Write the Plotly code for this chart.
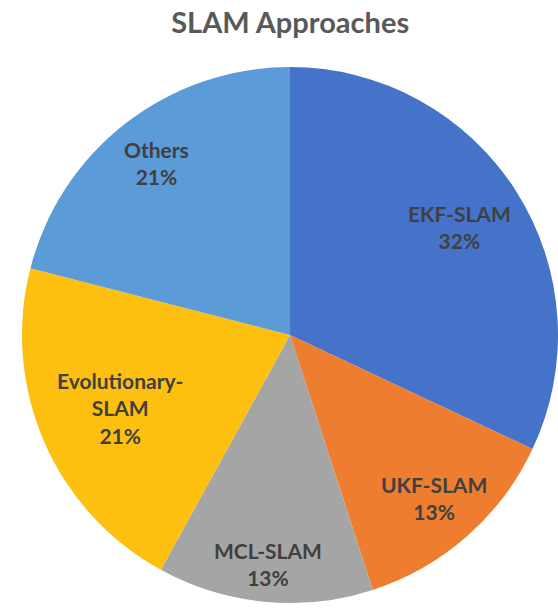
import math
import plotly.graph_objects as go

labels = ["EKF-SLAM", "UKF-SLAM", "MCL-SLAM", "Evolutionary-SLAM", "Others"]
label_text = ["EKF-SLAM", "UKF-SLAM", "MCL-SLAM", "Evolutionary-<br>SLAM", "Others"]
values = [32, 13, 13, 21, 21]
colors = ["#4673CA", "#EE7D30", "#A5A5A5", "#FDC010", "#5A9BD8"]

# label placement (fraction of radius along each slice's mid angle)
label_rfrac = [0.75, 0.81, 0.86, 0.69, 0.81]

W, H = 558, 608
dom_x = [0.0394, 1.0]
dom_y = [0.008, 0.89]

fig = go.Figure(go.Pie(
    labels=labels,
    values=values,
    textinfo="none",
    sort=False,
    direction="clockwise",
    rotation=0,
    marker=dict(colors=colors, line=dict(width=0)),
    domain=dict(x=dom_x, y=dom_y),
    showlegend=False,
    hoverinfo="label+percent",
))

cx = (dom_x[0] + dom_x[1]) / 2
cy = (dom_y[0] + dom_y[1]) / 2
r_px = min((dom_x[1] - dom_x[0]) * W, (dom_y[1] - dom_y[0]) * H) / 2
total = sum(values)
cum = 0
for i, v in enumerate(values):
    mid = (cum + v / 2) / total * 2 * math.pi
    cum += v
    rr = r_px * label_rfrac[i]
    x = cx + rr * math.sin(mid) / W
    y = cy + rr * math.cos(mid) / H
    pct = round(v / total * 100)
    fig.add_annotation(
        x=x, y=y, xref="paper", yref="paper",
        xanchor="center", yanchor="middle",
        text=f"<b>{label_text[i]}<br>{pct}%</b>",
        showarrow=False, align="center",
        font=dict(family="Lato", size=21, color="#404040"),
    )

fig.update_layout(
    width=W, height=H,
    margin=dict(l=0, r=0, t=0, b=0),
    paper_bgcolor="white",
    title=dict(text="<b>SLAM Approaches</b>", x=0.52, xanchor="center", y=0.962, yanchor="middle",
               font=dict(family="Lato", size=29, color="#595959")),
)

fig.write_html("out.html")
